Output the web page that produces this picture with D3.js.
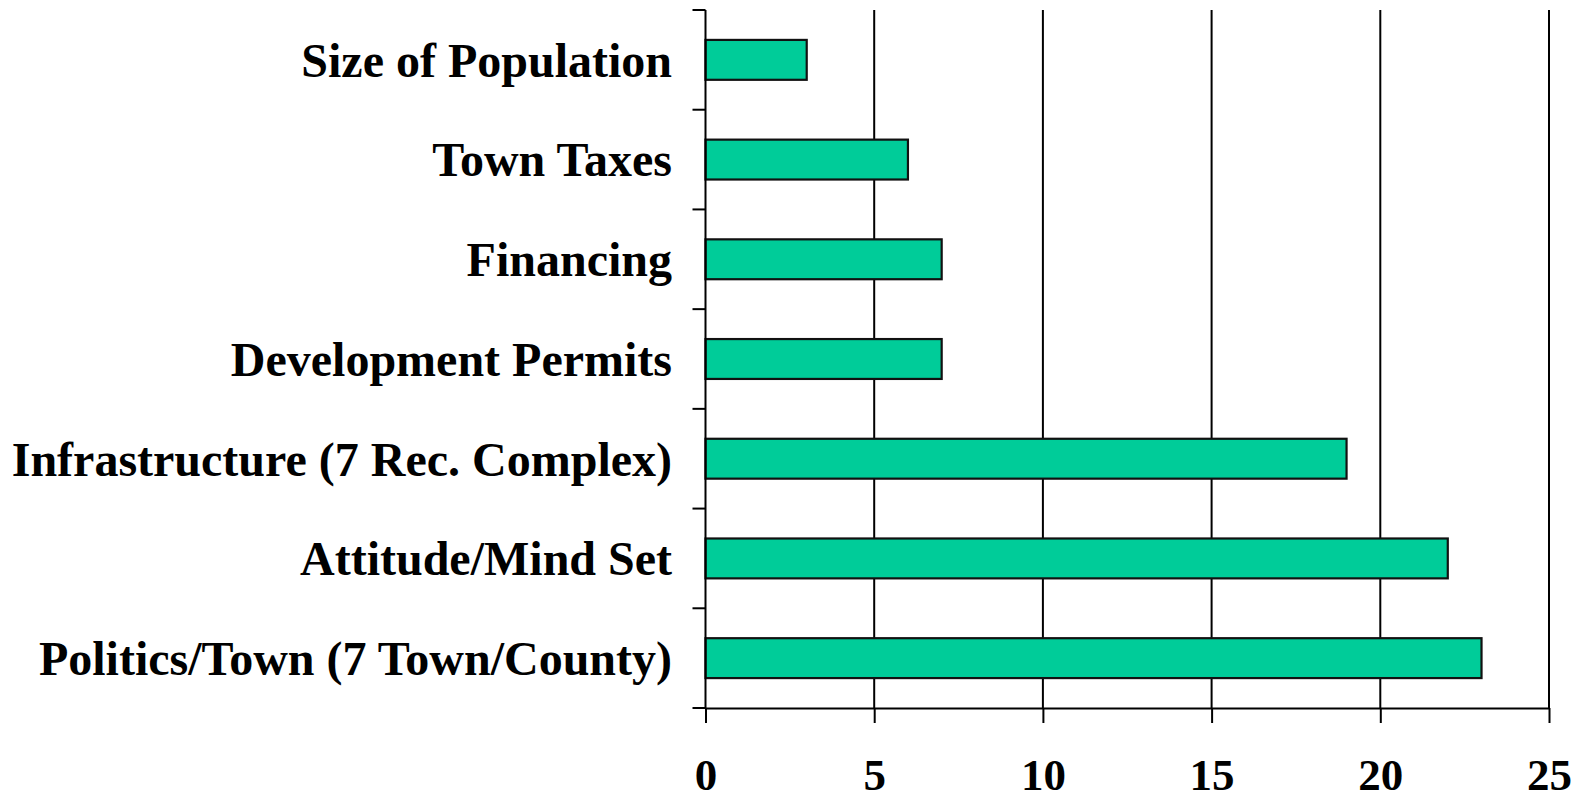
<!DOCTYPE html>
<html>
<head>
<meta charset="utf-8">
<script src="https://cdn.jsdelivr.net/npm/d3@7"></script>
<style>
  body { margin: 0; background: #fff; }
  svg { display: block; }
  .lbl { font-family: "Liberation Serif", "Times New Roman", serif; font-weight: bold; fill: #000; }
</style>
</head>
<body>
<div id="chart"></div>
<script>
// data, top to bottom
var categories = ["Size of Population", "Town Taxes", "Financing", "Development Permits",
  "Infrastructure (7 Rec. Complex)", "Attitude/Mind Set", "Politics/Town (7 Town/County)"];
var values = [3, 6, 7, 7, 19, 22, 23];
var xTicks = [0, 5, 10, 15, 20, 25];

var W = 1585, H = 796;
var plotL = 705.5, plotR = 1549, plotT = 10, plotB = 708;

var svg = d3.select("div#chart").append("svg")
  .attr("width", W).attr("height", H);

var x = d3.scaleLinear().domain([0, 25]).range([plotL, plotR]);
var y = d3.scaleBand().domain(categories).range([plotT, plotB])
  .paddingInner(0.6).paddingOuter(0.3);

// gridlines
svg.selectAll(".grid")
  .data(xTicks.slice(1))
  .enter().append("line")
  .attr("class", "grid")
  .attr("x1", function(d) { return x(d); })
  .attr("x2", function(d) { return x(d); })
  .attr("y1", plotT).attr("y2", plotB)
  .attr("stroke", "#000").attr("stroke-width", 2);

// bars
svg.selectAll(".bar")
  .data(values)
  .enter().append("rect")
  .attr("class", "bar")
  .attr("x", x(0))
  .attr("y", function(d, i) { return y(categories[i]); })
  .attr("width", function(d) { return x(d) - x(0); })
  .attr("height", y.bandwidth())
  .attr("fill", "#00CC99")
  .attr("stroke", "#111").attr("stroke-width", 2.2);

// y axis line + ticks at band boundaries
var step = y.step();
var bounds = d3.range(categories.length + 1).map(function(i) { return plotT + i * step; });
svg.append("line")
  .attr("x1", x(0)).attr("x2", x(0)).attr("y1", plotT).attr("y2", plotB)
  .attr("stroke", "#000").attr("stroke-width", 2);
svg.selectAll(".ytick")
  .data(bounds)
  .enter().append("line")
  .attr("class", "ytick")
  .attr("x1", x(0) - 13).attr("x2", x(0))
  .attr("y1", function(d) { return d; }).attr("y2", function(d) { return d; })
  .attr("stroke", "#000").attr("stroke-width", 2);

// x axis
var xAxis = d3.axisBottom(x).tickValues(xTicks).tickSize(15).tickSizeOuter(0);
var gx = svg.append("g").attr("transform", "translate(0," + plotB + ")").call(xAxis);
gx.select(".domain").attr("stroke", "#000").attr("stroke-width", 2);
gx.selectAll(".tick line").attr("stroke", "#000").attr("stroke-width", 2);
gx.selectAll(".tick text")
  .attr("class", "lbl")
  .attr("y", 82).attr("dy", null)
  .style("font-size", "45px");

// category labels
svg.selectAll(".cat")
  .data(categories)
  .enter().append("text")
  .attr("class", "lbl cat")
  .attr("x", 672)
  .attr("y", function(d) { return y(d) + y.bandwidth() / 2; })
  .attr("dy", "0.35em")
  .attr("text-anchor", "end")
  .style("font-size", "48px")
  .text(function(d) { return d; });
</script>
</body>
</html>
